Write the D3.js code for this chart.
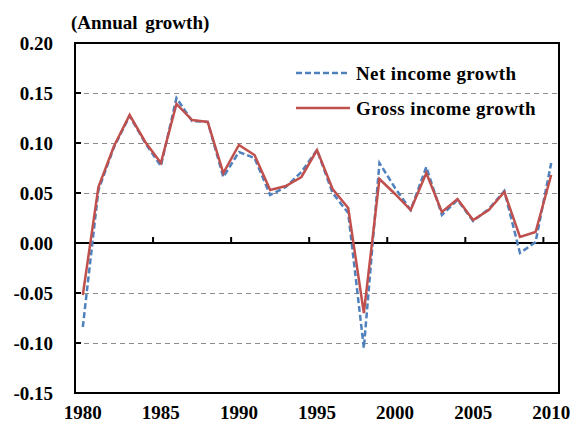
<!DOCTYPE html>
<html>
<head>
<meta charset="utf-8">
<script src="https://cdn.jsdelivr.net/npm/d3@7"></script>
<style>
  body { margin: 0; background: #fff; }
  text { font-family: "Liberation Serif", "Times New Roman", serif; font-weight: bold; fill: #000; }
</style>
</head>
<body>
<div id="chart"></div>
<script>
var years = d3.range(1980, 2011);
var netGrowth = [-0.084, 0.053, 0.096, 0.127, 0.100, 0.077, 0.145, 0.122, 0.121, 0.066,
                 0.091, 0.085, 0.048, 0.056, 0.071, 0.093, 0.050, 0.030, -0.105, 0.080,
                 0.055, 0.033, 0.076, 0.028, 0.043, 0.022, 0.034, 0.052, -0.010, 0.001, 0.080];
var grossGrowth = [-0.052, 0.056, 0.097, 0.128, 0.101, 0.080, 0.139, 0.123, 0.121, 0.070,
                   0.098, 0.088, 0.053, 0.057, 0.066, 0.093, 0.054, 0.035, -0.070, 0.064,
                   0.049, 0.033, 0.070, 0.031, 0.044, 0.023, 0.033, 0.051, 0.006, 0.011, 0.068];
var yTicks = [0.20, 0.15, 0.10, 0.05, 0.00, -0.05, -0.10, -0.15];
var xLabels = [1980, 1985, 1990, 1995, 2000, 2005, 2010];
var seriesNames = ["Net income growth", "Gross income growth"];

var width = 573, height = 423;
var margin = {top: 43, right: 14, bottom: 30, left: 75};
var fontSize = "19px";

var svg = d3.select("#chart").append("svg")
    .attr("width", width)
    .attr("height", height);

var x = d3.scaleBand()
    .domain(years)
    .range([margin.left, width - margin.right])
    .padding(0);

var y = d3.scaleLinear()
    .domain([-0.15, 0.20])
    .range([height - margin.bottom, margin.top]);

var cx = function(yr) { return x(yr) + x.bandwidth() / 2; };

// gridlines
svg.append("g")
    .selectAll("line")
    .data(yTicks.filter(function(d) { return d !== 0 && d !== 0.20 && d !== -0.15; }))
    .enter().append("line")
    .attr("x1", margin.left)
    .attr("x2", width - margin.right)
    .attr("y1", function(d) { return Math.round(y(d)) + 0.5; })
    .attr("y2", function(d) { return Math.round(y(d)) + 0.5; })
    .attr("stroke", "#8c8c8c")
    .attr("stroke-width", 1.2)
    .attr("stroke-dasharray", "5,4");

// y axis ticks (inside) and labels
svg.append("g")
    .selectAll("line")
    .data(yTicks)
    .enter().append("line")
    .attr("x1", margin.left)
    .attr("x2", margin.left + 6)
    .attr("y1", function(d) { return y(d); })
    .attr("y2", function(d) { return y(d); })
    .attr("stroke", "#000")
    .attr("stroke-width", 2);

svg.append("g")
    .selectAll("text")
    .data(yTicks)
    .enter().append("text")
    .attr("x", 53)
    .attr("y", function(d) { return y(d) + 7; })
    .attr("text-anchor", "end")
    .style("font-size", fontSize)
    .text(function(d) { return d3.format(".2f")(d).replace("−", "-"); });

// zero line with category ticks
svg.append("line")
    .attr("x1", margin.left)
    .attr("x2", width - margin.right)
    .attr("y1", y(0))
    .attr("y2", y(0))
    .attr("stroke", "#000")
    .attr("stroke-width", 2);

svg.append("g")
    .selectAll("line")
    .data(xLabels.slice(1))
    .enter().append("line")
    .attr("x1", function(d) { return x(d); })
    .attr("x2", function(d) { return x(d); })
    .attr("y1", y(0))
    .attr("y2", y(0) - 6)
    .attr("stroke", "#000")
    .attr("stroke-width", 2);

// x labels
svg.append("g")
    .selectAll("text")
    .data(xLabels)
    .enter().append("text")
    .attr("x", function(d) { return cx(d); })
    .attr("y", 419)
    .attr("text-anchor", "middle")
    .style("font-size", fontSize)
    .text(function(d) { return d; });

// plot border
svg.append("rect")
    .attr("x", margin.left)
    .attr("y", margin.top)
    .attr("width", width - margin.left - margin.right)
    .attr("height", height - margin.top - margin.bottom)
    .attr("fill", "none")
    .attr("stroke", "#000")
    .attr("stroke-width", 2);

// lines
var line = function(vals) {
    return d3.line()
        .x(function(d, i) { return cx(years[i]); })
        .y(function(d) { return y(d); })(vals);
};

svg.append("path")
    .attr("d", line(netGrowth))
    .attr("fill", "none")
    .attr("stroke", "#4f81bd")
    .attr("stroke-width", 2.5)
    .attr("stroke-dasharray", "6,3");

svg.append("path")
    .attr("d", line(grossGrowth))
    .attr("fill", "none")
    .attr("stroke", "#c0504d")
    .attr("stroke-width", 2.5);

// legend
var legend = svg.append("g");
[{name: seriesNames[0], color: "#4f81bd", dash: "6,3", ly: 73},
 {name: seriesNames[1], color: "#c0504d", dash: null, ly: 108}].forEach(function(s) {
    legend.append("line")
        .attr("x1", 296).attr("x2", 350)
        .attr("y1", s.ly).attr("y2", s.ly)
        .attr("stroke", s.color)
        .attr("stroke-width", 2.5)
        .attr("stroke-dasharray", s.dash);
    legend.append("text")
        .attr("x", 356)
        .attr("y", s.ly + 7)
        .style("font-size", fontSize)
        .style("letter-spacing", "0.4px")
        .text(s.name);
});

// title
svg.append("text")
    .attr("x", 71)
    .attr("y", 29)
    .style("font-size", fontSize)
    .style("word-spacing", "3px")
    .text("(Annual growth)");
</script>
</body>
</html>
